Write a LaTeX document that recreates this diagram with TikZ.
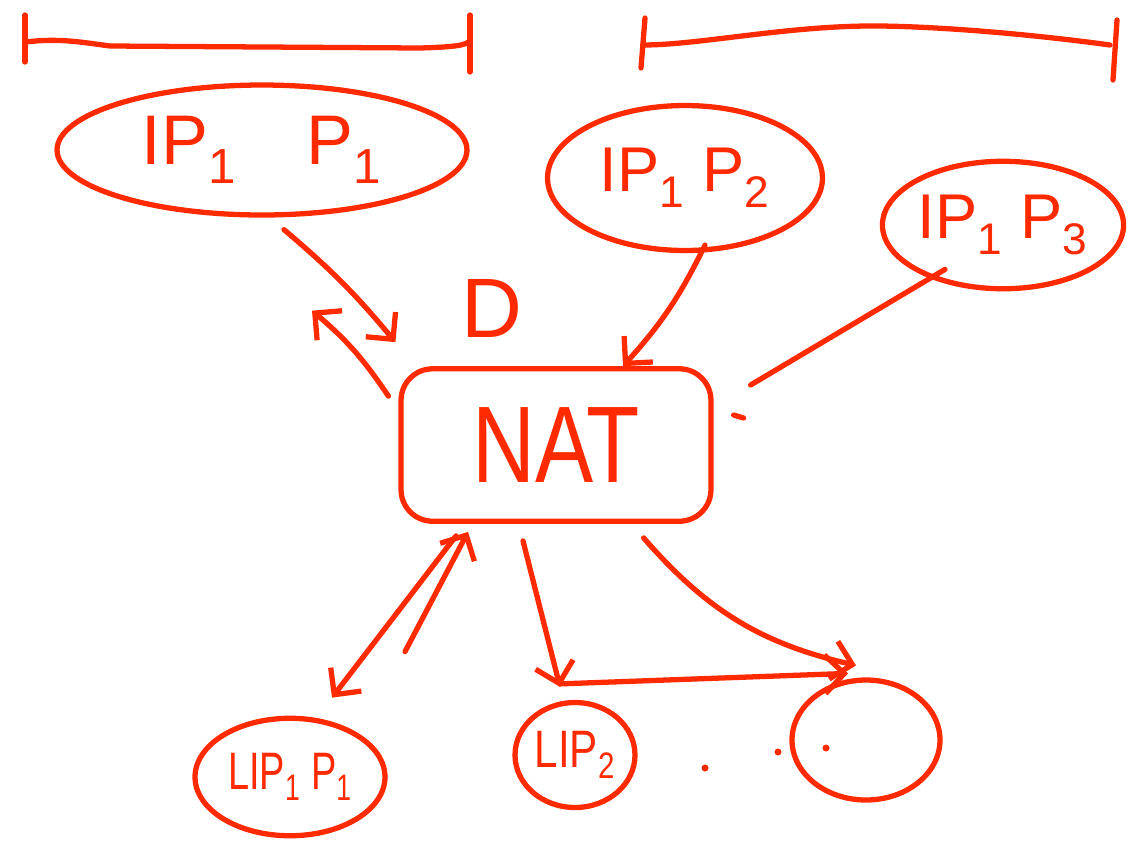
\documentclass[tikz,border=0pt]{standalone}
\usepackage{fontspec}
\setmainfont{Liberation Sans}
\usetikzlibrary{shapes.geometric,arrows.meta,calc}
\definecolor{pen}{RGB}{255,42,0}
\tikzset{
  ink/.style={draw=pen, line width=3pt, line cap=round, line join=round},
  bubble/.style={ink, ellipse, inner sep=0pt, text=pen},
  hook/.style={-{Straight Barb[length=11pt,width=22pt]}},
}
\newcommand{\sub}[1]{\textsubscript{#1}}
\begin{document}
\begin{tikzpicture}[x=0.02cm,y=-0.02cm]
\useasboundingbox (0,0) rectangle (1135,840);
\fill[white] (0,0) rectangle (1135,840);

% range brackets along the top
\draw[ink] (25,15) -- (25,62);
\draw[ink] (25,42) .. controls (60,38) and (80,42) .. (110,46) -- (420,48) .. controls (450,47) and (468,46) .. (470,40);
\draw[ink] (470,15) -- (470,72);
\draw[ink] (645,18) -- (641,68);
\draw[ink] (643,45) .. controls (700,45) and (790,25) .. (880,26) .. controls (960,27) and (1060,38) .. (1110,45);
\draw[ink] (1117,20) -- (1113,80);

% public address/port bubbles
\node[bubble, minimum width=8.2cm, minimum height=2.6cm] (e1) at (262,150)
  {\fontsize{40}{40}\selectfont IP\sub{1}\quad P\sub{1}};
\node[bubble, minimum width=5.5cm, minimum height=2.9cm] (e2) at (685,178)
  {\fontsize{36}{36}\selectfont IP\sub{1} P\sub{2}};
\node[bubble, minimum width=4.7cm, minimum height=2.55cm] (e3) at (1003,225)
  {\fontsize{36}{36}\selectfont IP\sub{1} P\sub{3}};

% translator
\node[ink, rounded corners=18pt, minimum width=6.2cm, minimum height=3.05cm, text=pen] (nat) at (556,445)
  {\scalebox{0.8}[1]{\fontsize{62}{62}\selectfont NAT}};
\node[text=pen, font=\fontsize{48}{48}\selectfont] (d) at (492,308) {D};

% private side
\node[bubble, minimum width=3.8cm, minimum height=2.35cm] (l1) at (290,777)
  {\scalebox{0.72}[1]{\fontsize{30}{30}\selectfont LIP\sub{1} P\sub{1}}};
\node[bubble, minimum width=2.4cm, minimum height=2.1cm] (l2) at (575,755)
  {\scalebox{0.8}[1]{\fontsize{30}{30}\selectfont LIP\sub{2}}};
\node[bubble, minimum width=2.96cm, minimum height=2.4cm] (l3) at (866,740) {};

% connectors
\draw[ink, hook] ([shift={(22,12)}]e1.south) to[bend left=5] ([shift={(-3,-24)}]nat.north west);
\draw[ink, hook] ([shift={(-10,30)}]nat.north west) to[bend right=8] ([shift={(50,93)}]e1.south);
\draw[ink, hook] ([shift={(20,-8)}]e2.south) to[bend left=8] ([shift={(67,0)}]nat.north);
\draw[ink] ([shift={(-58,-22)}]e3.south) -- ([shift={(37,-60)}]nat.east);
\draw[ink] ([shift={(20,-30)}]nat.east) -- ++(10,3);
\draw[ink, hook] ([shift={(-100,12)}]nat.south) -- ([shift={(42,-18)}]l1.north);
\draw[ink, hook] ([shift={(115,-64)}]l1.north) -- ([shift={(-88,8)}]nat.south);
\draw[ink, hook] ([shift={(-33,17)}]nat.south) -- ([shift={(-15,-13)}]l2.north);
\coordinate (row) at ([shift={(-15,-16)}]l2.north);
\draw[ink, hook] (row) -- ([shift={(-18,-4)}]l3.north);
\draw[ink, hook] ([shift={(-70,14)}]nat.south east) to[bend right=18] ([shift={(-10,-12)}]l3.north);

% ellipsis between the private hosts
\fill[pen] (705,768) circle (3.5);
\fill[pen] (778,752) circle (3.5);
\fill[pen] (826,748) circle (3.5);
\end{tikzpicture}
\end{document}
